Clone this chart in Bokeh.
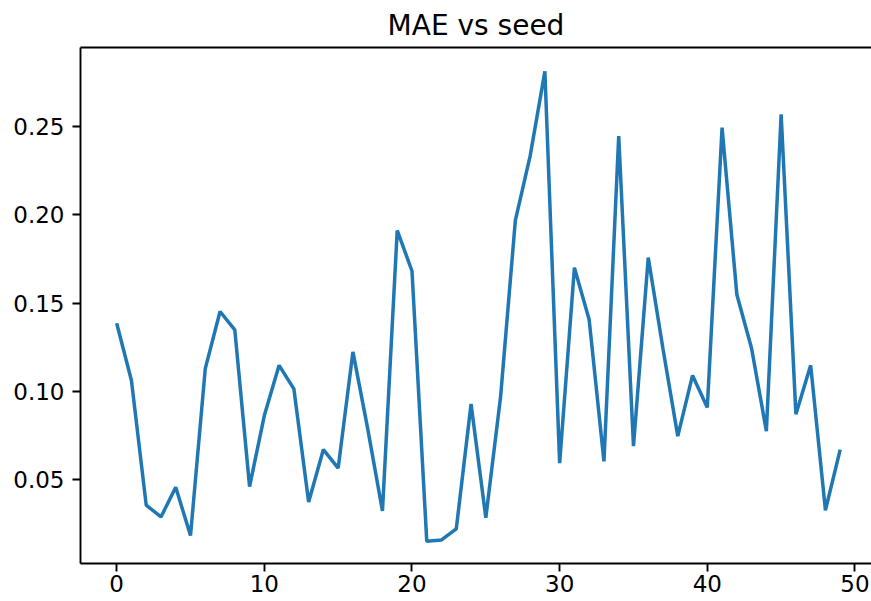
from bokeh.plotting import figure
from bokeh.models import LinearAxis, FixedTicker, PrintfTickFormatter, Range1d
from bokeh.embed import file_html
from bokeh.resources import INLINE

seeds = list(range(50))
mae = [0.1386, 0.1062, 0.0358, 0.0291, 0.0459, 0.0186, 0.1129, 0.1452, 0.1348, 0.0463,
       0.0864, 0.1148, 0.1015, 0.0376, 0.0672, 0.0567, 0.1224, 0.0790, 0.0325, 0.1910,
       0.1681, 0.0154, 0.0161, 0.0224, 0.0929, 0.0287, 0.0970, 0.1967, 0.2330, 0.2809,
       0.0595, 0.1700, 0.1405, 0.0605, 0.2443, 0.0691, 0.1757, 0.1240, 0.0748, 0.1091,
       0.0910, 0.2491, 0.1548, 0.1243, 0.0776, 0.2567, 0.0872, 0.1148, 0.0329, 0.0672]
x_ticks = [0, 10, 20, 30, 40, 50]
y_ticks = [0.05, 0.10, 0.15, 0.20, 0.25]
title_text = "MAE vs seed"

FONT = "DejaVu Sans"

p = figure(width=871, height=601, output_backend="svg", toolbar_location=None,
           x_range=Range1d(-2.45, 51.12), y_range=Range1d(0.0028, 0.2944),
           min_border_left=80, min_border_right=0, min_border_top=46, min_border_bottom=38,
           title=title_text)

p.line(seeds, mae, line_color="#1f77b4", line_width=3.5)

p.title.text_font = FONT
p.title.text_font_size = "28px"
p.title.text_font_style = "normal"
p.title.text_color = "black"
p.title.align = "center"
p.title.standoff = 11.5
p.title.offset = 2

p.xgrid.visible = False
p.ygrid.visible = False
p.outline_line_color = None
p.background_fill_color = "white"
p.border_fill_color = "white"

for ax in (p.xaxis[0], p.yaxis[0]):
    ax.axis_line_color = "black"
    ax.axis_line_width = 1.9
    ax.major_tick_line_color = "black"
    ax.major_tick_line_width = 1.9
    ax.major_tick_out = 8
    ax.major_tick_in = 0
    ax.minor_tick_line_color = None
    ax.major_label_text_font = FONT
    ax.major_label_text_font_size = "23px"
    ax.major_label_text_color = "black"

p.xaxis[0].ticker = FixedTicker(ticks=x_ticks)
p.xaxis[0].major_label_standoff = 3
p.yaxis[0].ticker = FixedTicker(ticks=y_ticks)
p.yaxis[0].formatter = PrintfTickFormatter(format="%.2f")
p.yaxis[0].major_label_standoff = 8

top = LinearAxis(ticker=FixedTicker(ticks=[]), axis_line_color="black", axis_line_width=1.9,
                 major_tick_line_color=None, minor_tick_line_color=None,
                 major_label_text_font_size="0px", major_label_standoff=0)
p.add_layout(top, "above")

open("out.html", "w").write(file_html(p, INLINE))
